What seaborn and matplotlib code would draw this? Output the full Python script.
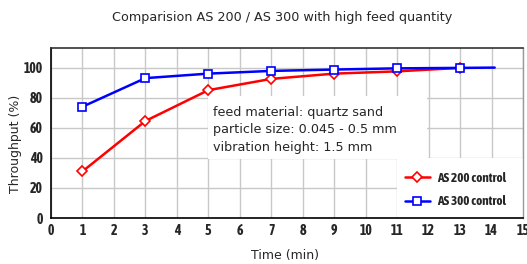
import matplotlib
matplotlib.use("Agg")
import matplotlib.pyplot as plt
from matplotlib import font_manager
from matplotlib.patches import Rectangle
import seaborn as sns
import pandas as pd

# Throughput over time
time_as200 = [1, 3, 5, 7, 9, 11, 13]
thr_as200 = [31, 64.5, 85, 92.5, 96, 97.5, 99.8]
time_as300 = [1, 3, 5, 7, 9, 11, 13, 14.1]
thr_as300 = [74, 93, 96, 97.8, 98.7, 99.5, 99.8, 100]
x_ticks = list(range(0, 16))
y_ticks = [0, 20, 40, 60, 80, 100]
info = 'feed material: quartz sand\nparticle size: 0.045 - 0.5 mm\nvibration height: 1.5 mm'

sns.set_theme(style="whitegrid")
plt.rcParams['font.family'] = ['DejaVu Sans']

# condensed bold face for ticks and legend
names = {f.name for f in font_manager.fontManager.ttflist}
narrow = next((n for n in ['Asap Condensed', 'Barlow Condensed', 'Roboto Condensed', 'Archivo Narrow']
               if n in names), 'DejaVu Sans')

df200 = pd.DataFrame({'Time': time_as200, 'Throughput': thr_as200})
df300 = pd.DataFrame({'Time': time_as300, 'Throughput': thr_as300})

fig = plt.figure(figsize=(5.27, 2.64), dpi=100)
ax = fig.add_axes([0.0968, 0.1742, 0.8956, 0.6438])

sns.lineplot(data=df200, x='Time', y='Throughput', ax=ax, color='#ff0000', lw=1.8,
             marker='D', markersize=5.5, markerfacecolor='white', markeredgecolor='#ff0000',
             markeredgewidth=1.2, label='AS 200 control', zorder=3)
sns.lineplot(data=df300, x='Time', y='Throughput', ax=ax, color='#0000ff', lw=1.8,
             marker='s', markersize=5.5, markerfacecolor='white', markeredgecolor='#0000ff',
             markeredgewidth=1.2, markevery=list(range(7)), label='AS 300 control', zorder=4)

ax.set_xlim(0, 15)
ax.set_ylim(0, 113)
ax.set_xticks(x_ticks)
ax.set_yticks(y_ticks)
ax.grid(True, color='#c8c8c8', lw=1)
ax.set_facecolor('white')
for side in ['left', 'bottom']:
    ax.spines[side].set_color('black')
    ax.spines[side].set_linewidth(1.2)
ax.spines['top'].set_color('#333333')
ax.spines['top'].set_linewidth(1.2)
ax.spines['right'].set_color('#999999')
ax.spines['right'].set_linewidth(1)
ax.tick_params(axis='both', length=4, width=1, color='#555555', pad=2)
ax.tick_params(axis='x', direction='inout', length=6, pad=1)
for lab in ax.get_xticklabels() + ax.get_yticklabels():
    lab.set_fontfamily(narrow)
    lab.set_fontweight('bold')
    lab.set_fontsize(10)

ax.set_xlabel('')
ax.set_ylabel('')
fig.text(285 / 527, 1 - 256 / 264, 'Time (min)', fontsize=9, ha='center', va='center')
fig.text(16 / 527, 1 - 144 / 264, 'Throughput (%)', fontsize=9, ha='center', va='center',
         rotation=90)
fig.text(282 / 527, 1 - 17 / 264, 'Comparision AS 200 / AS 300 with high feed quantity',
         fontsize=9.2, ha='center', va='center')

# white panels behind the note and the legend
ax.add_patch(Rectangle((5.0, 39.5), 6.95, 41.5, facecolor='white', edgecolor='none', zorder=2))
ax.add_patch(Rectangle((11.0, 0.6), 4.0, 39.0, facecolor='white', edgecolor='none', zorder=2))

ax.text(5.15, 58.7, info, fontsize=9.2, va='center', ha='left', linespacing=1.45, zorder=5)

leg = ax.legend(loc='center left', bbox_to_anchor=(0.735, 0.165), frameon=False,
                handlelength=1.9, handletextpad=0.6, labelspacing=0.8, borderpad=0,
                prop={'family': narrow, 'weight': 'bold', 'size': 9.5})

fig.savefig('out.png', dpi=100, facecolor='white')
